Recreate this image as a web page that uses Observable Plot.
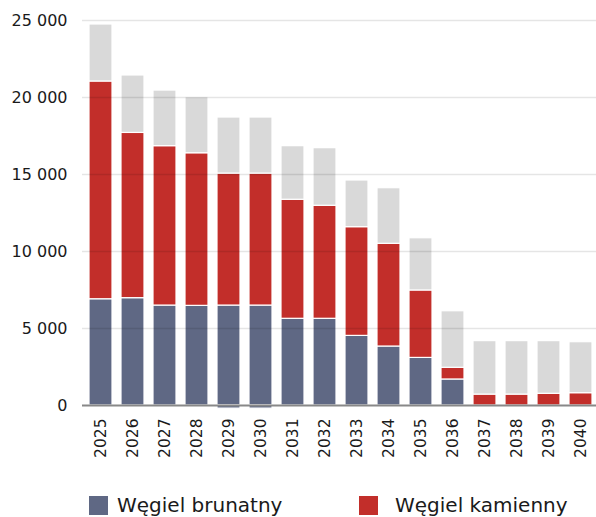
<!DOCTYPE html>
<html>
<head>
<meta charset="utf-8">
<script src="https://cdn.jsdelivr.net/npm/d3@7"></script>
<script src="https://cdn.jsdelivr.net/npm/@observablehq/plot@0.6"></script>
<style>
  body { margin: 0; background: #fff; font-family: "DejaVu Sans", sans-serif; }
  #wrap { position: relative; width: 596px; height: 517px; overflow: hidden; }
  .leg { position: absolute; top: 495px; display: flex; align-items: center; font-size: 20px; color: #1a1a1a; line-height: 20px; }
  .sw { width: 19px; height: 19px; margin-right: 9px; }
</style>
</head>
<body>
<div id="wrap">
  <div id="chart"></div>
  <div class="leg" style="left:89px"><div class="sw" style="background:#5f6884"></div><span>Węgiel brunatny</span></div>
  <div class="leg" style="left:359px"><div class="sw" style="background:#c22e2a;margin-right:17px"></div><span>Węgiel kamienny</span></div>
</div>
<script>
const years = ["2025","2026","2027","2028","2029","2030","2031","2032","2033","2034","2035","2036","2037","2038","2039","2040"];
const brunatny = [6900, 6970, 6490, 6470, 6490, 6490, 5630, 5630, 4520, 3830, 3090, 1690, 0, 0, 0, 0];
const kamienny = [14140, 10730, 10350, 9910, 8570, 8570, 7730, 7340, 7060, 6670, 4380, 760, 710, 710, 760, 800];
const pozostale = [3700, 3730, 3610, 3640, 3640, 3640, 3480, 3740, 3030, 3610, 3390, 3670, 3470, 3470, 3420, 3310];
const korekta = [0, 0, 0, 0, -200, -200, 0, 0, 0, 0, 0, 0, 0, 0, 0, 0];
const seriesNames = ["Węgiel brunatny", "Węgiel kamienny", "Pozostałe", "Korekta"];
const seriesColors = ["#5f6884", "#c22e2a", "#d9d9d9", "#5f6884"];
const yTicks = [0, 5000, 10000, 15000, 20000, 25000];

const rows = [];
years.forEach((y, i) => {
  rows.push({year: y, series: seriesNames[0], value: brunatny[i]});
  rows.push({year: y, series: seriesNames[1], value: kamienny[i]});
  rows.push({year: y, series: seriesNames[2], value: pozostale[i]});
  if (korekta[i] !== 0) rows.push({year: y, series: seriesNames[3], value: korekta[i]});
});

const fmt = d => d3.format(",")(d).replace(/,/g, " ");

const chart = Plot.plot({
  width: 596,
  height: 470,
  marginLeft: 82,
  marginRight: 0,
  marginTop: 20,
  marginBottom: 65,
  style: {fontFamily: "'DejaVu Sans', sans-serif", color: "#1a1a1a", background: "#fff", overflow: "hidden"},
  x: {domain: years, range: [82, 600], paddingInner: 0.28, paddingOuter: 0.1},
  y: {domain: [0, 25000]},
  color: {domain: seriesNames, range: seriesColors},
  marks: [
    Plot.barY(rows, Plot.stackY({
      x: "year", y: "value", z: "series", fill: "series",
      order: seriesNames,
      stroke: "#fff", strokeWidth: 1.2
    })),
    Plot.ruleY(yTicks.filter(d => d > 0), {stroke: "#000", strokeOpacity: 0.1, strokeWidth: 1.5}),
    Plot.ruleY([0], {stroke: "#888", strokeWidth: 2}),
    Plot.axisY({ticks: yTicks, tickFormat: fmt, tickSize: 0, tickPadding: 15, fontSize: 16, label: null}),
    Plot.axisX({tickRotate: -90, tickSize: 0, tickPadding: 13, fontSize: 15.5, label: null})
  ]
});
document.getElementById("chart").appendChild(chart);
</script>
</body>
</html>
